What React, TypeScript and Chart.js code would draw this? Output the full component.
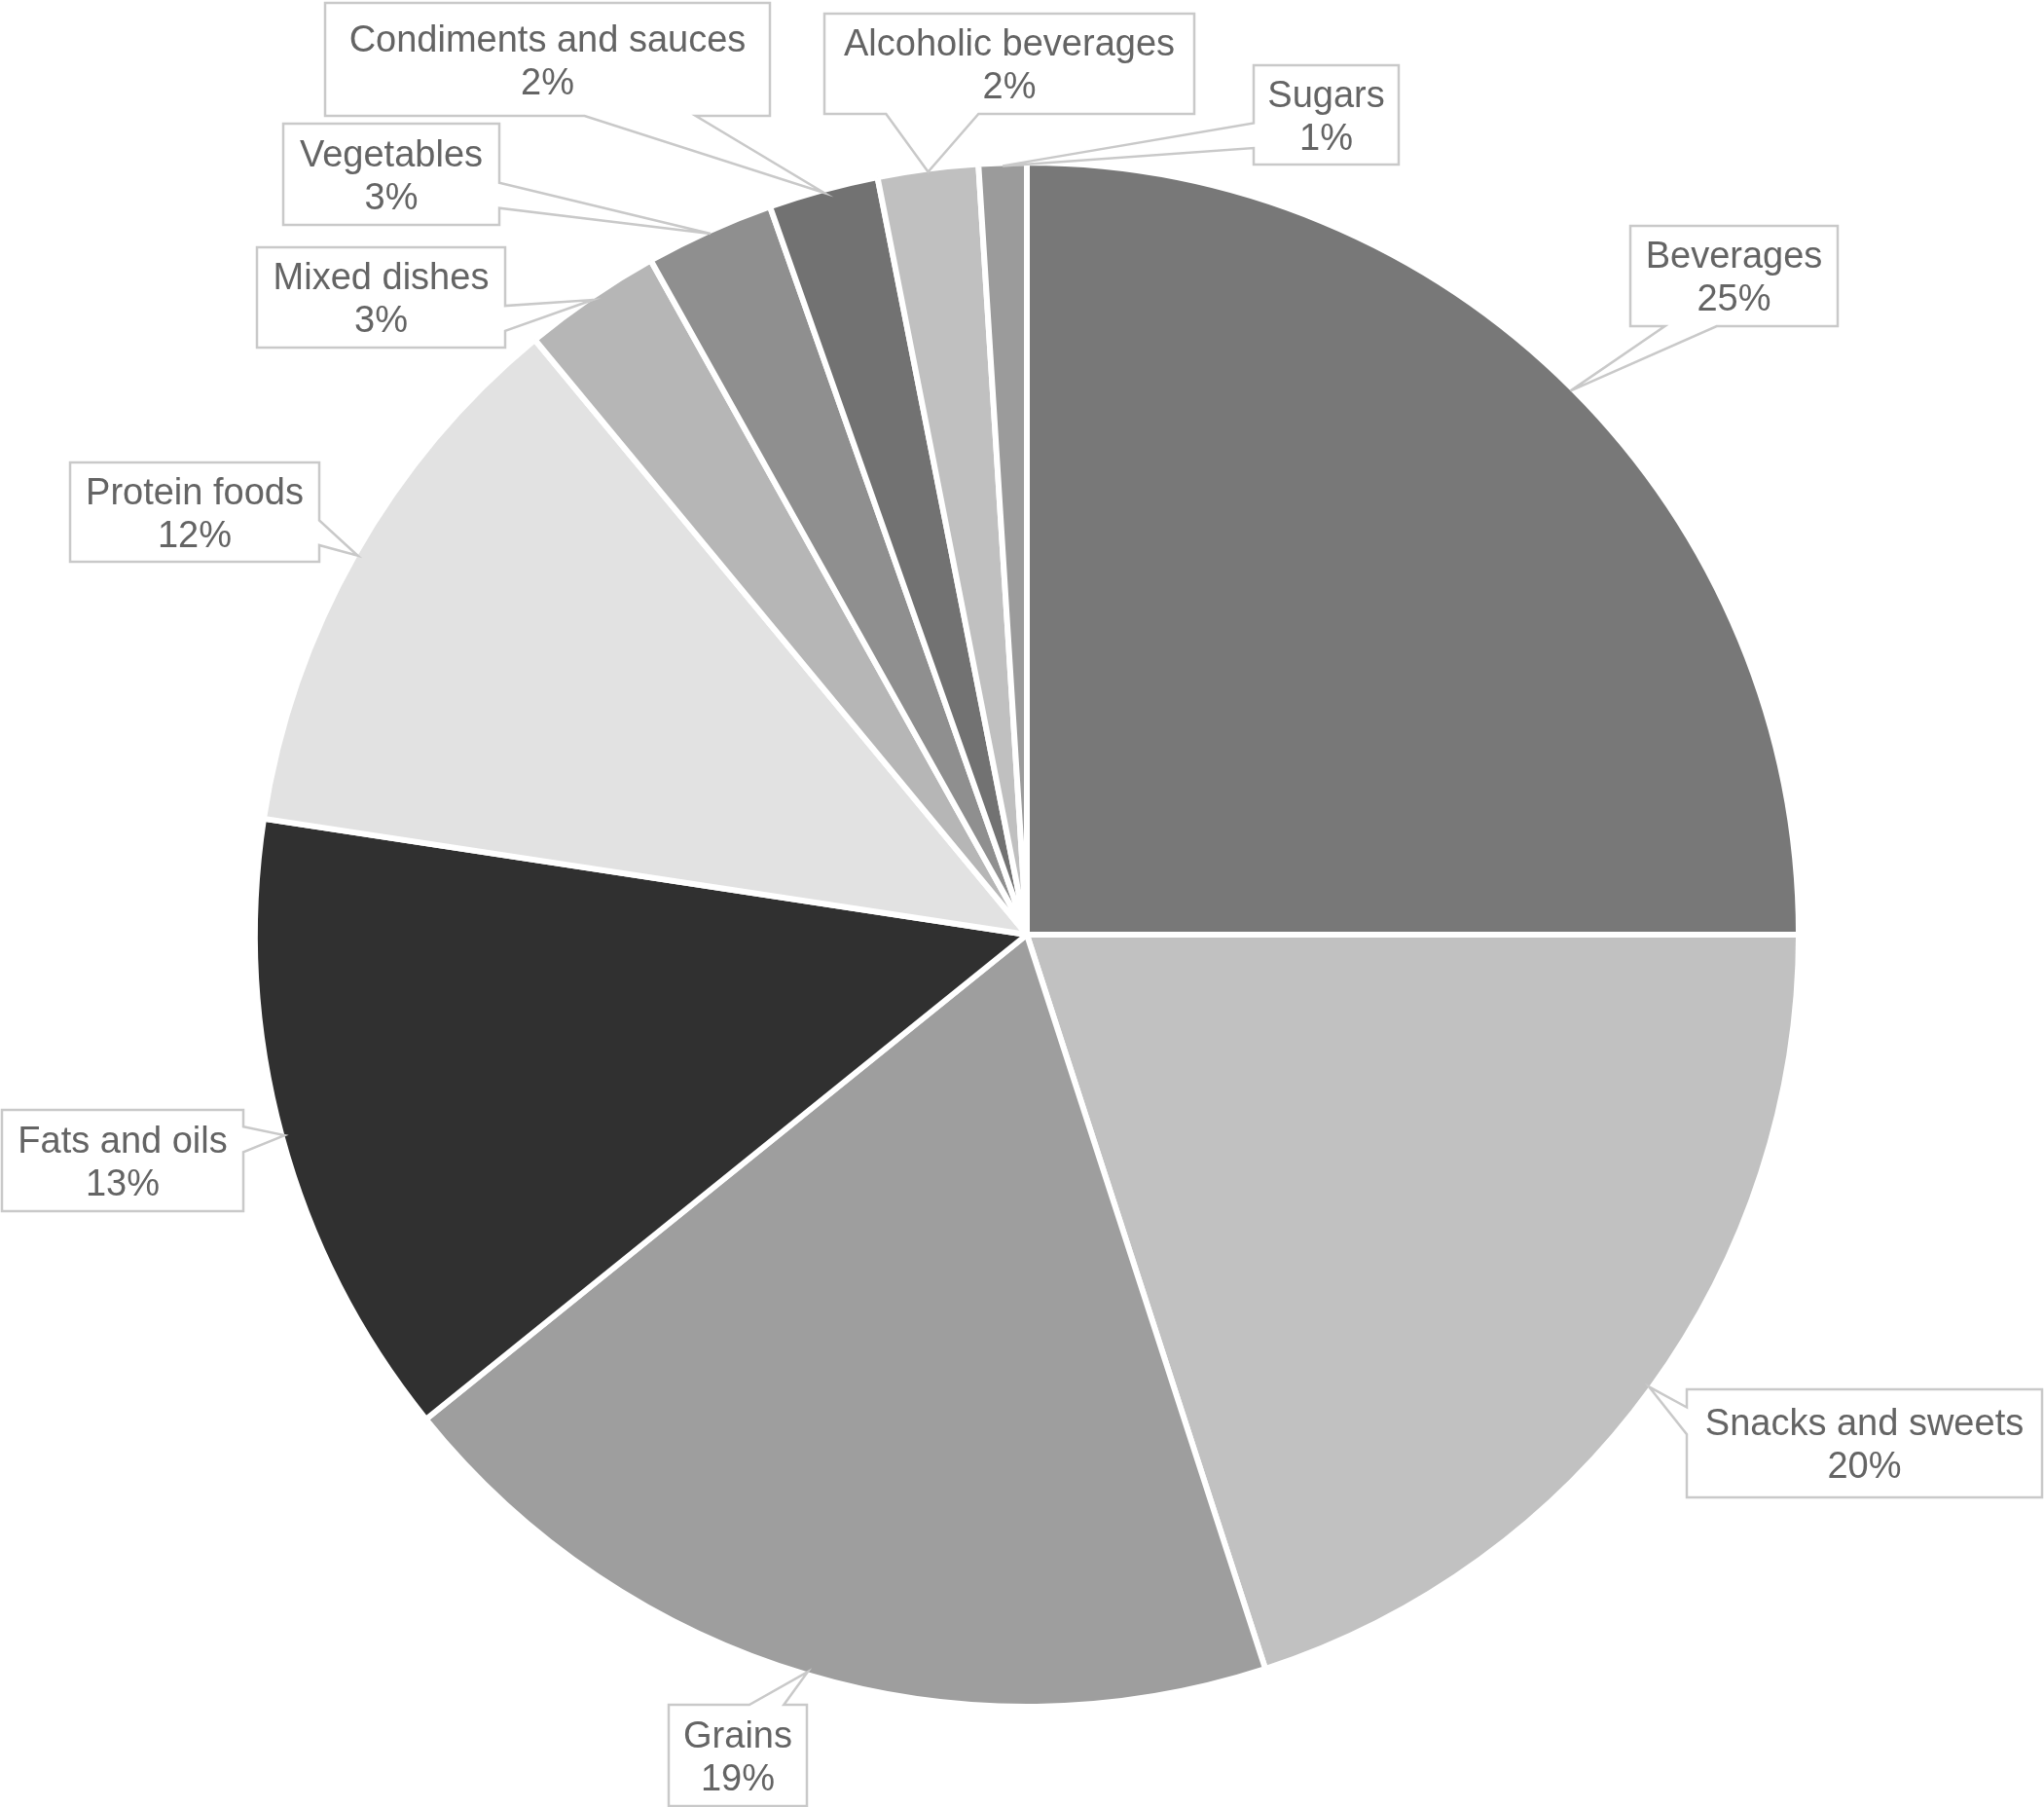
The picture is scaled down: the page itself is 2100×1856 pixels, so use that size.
import React, { useEffect, useRef } from "react";
import { Chart, registerables } from "chart.js";

Chart.register(...registerables);

// ---- data ----
const categories: string[] = [
  "Beverages",
  "Snacks and sweets",
  "Grains",
  "Fats and oils",
  "Protein foods",
  "Mixed dishes",
  "Vegetables",
  "Condiments and sauces",
  "Alcoholic beverages",
  "Sugars",
];
const shares: number[] = [25, 20, 19.2, 13.2, 11.6, 2.9, 2.7, 2.3, 2.1, 1.0];

// ---- styles ----
const sliceColors: string[] = [
  "#787878",
  "#c1c1c1",
  "#9e9e9e",
  "#303030",
  "#e2e2e2",
  "#b6b6b6",
  "#8f8f8f",
  "#727272",
  "#c0c0c0",
  "#9b9b9b",
];

// ---- callout box layout: [left, top, right, bottom] in canvas px ----
const labelBoxes: number[][] = [
  [1675, 232, 1888, 335],
  [1733, 1427, 2098, 1538],
  [687, 1751, 829, 1855],
  [2, 1140, 250, 1244],
  [72, 475, 328, 577],
  [264, 254, 519, 357],
  [291, 127, 513, 231],
  [334, 3, 791, 119],
  [847, 14, 1227, 117],
  [1288, 67, 1437, 169],
];

const FONT = '38px "Liberation Sans", Arial, sans-serif';
const TEXT_COLOR = "#646464";
const BOX_BORDER = "#c9c9c9";

const calloutPlugin = {
  id: "callouts",
  afterDatasetsDraw(chart: any) {
    const ctx: CanvasRenderingContext2D = chart.ctx;
    const meta = chart.getDatasetMeta(0);
    const data = chart.data.datasets[0].data as number[];
    const total = data.reduce((a, b) => a + b, 0);
    ctx.save();
    meta.data.forEach((el: any, i: number) => {
      const p = el.getProps(["x", "y", "startAngle", "endAngle", "outerRadius"], true);
      const mid = (p.startAngle + p.endAngle) / 2;
      const r = p.outerRadius - 3;
      const tx = p.x + Math.cos(mid) * r;
      const ty = p.y + Math.sin(mid) * r;
      const [l, t, rr, b] = labelBoxes[i];
      const w = rr - l;
      const h = b - t;
      const cx = (l + rr) / 2;
      const cy = (t + b) / 2;
      const dx = (tx - cx) / (w / 2);
      const dy = (ty - cy) / (h / 2);
      let edge: string;
      if (Math.abs(dx) > Math.abs(dy)) edge = dx > 0 ? "right" : "left";
      else edge = dy > 0 ? "bottom" : "top";
      const horiz = edge === "top" || edge === "bottom";
      const far = horiz ? tx > cx : ty > cy;
      const f0 = far ? 7 / 12 : 1 / 6;
      const f1 = far ? 5 / 6 : 5 / 12;
      const pts: number[][] = [];
      pts.push([l, t]);
      if (edge === "top") pts.push([l + w * f0, t], [tx, ty], [l + w * f1, t]);
      pts.push([rr, t]);
      if (edge === "right") pts.push([rr, t + h * f0], [tx, ty], [rr, t + h * f1]);
      pts.push([rr, b]);
      if (edge === "bottom") pts.push([l + w * f1, b], [tx, ty], [l + w * f0, b]);
      pts.push([l, b]);
      if (edge === "left") pts.push([l, t + h * f1], [tx, ty], [l, t + h * f0]);

      ctx.beginPath();
      pts.forEach(([px, py], k) => (k === 0 ? ctx.moveTo(px, py) : ctx.lineTo(px, py)));
      ctx.closePath();
      ctx.fillStyle = "#ffffff";
      ctx.fill();
      ctx.lineWidth = 2.5;
      ctx.lineJoin = "miter";
      ctx.strokeStyle = BOX_BORDER;
      ctx.stroke();

      const pct = Math.round((data[i] / total) * 100) + "%";
      ctx.font = FONT;
      ctx.fillStyle = TEXT_COLOR;
      ctx.textAlign = "center";
      ctx.textBaseline = "alphabetic";
      const lineH = 44;
      const capH = 27;
      const base1 = cy - lineH / 2 + capH / 2;
      ctx.fillText(String(chart.data.labels[i]), cx, base1);
      ctx.fillText(pct, cx, base1 + lineH);
    });
    ctx.restore();
  },
};

export default function App() {
  const canvasRef = useRef<HTMLCanvasElement | null>(null);

  useEffect(() => {
    const canvas = canvasRef.current;
    if (!canvas) return;
    const chart = new Chart(canvas, {
      type: "pie",
      data: {
        labels: categories,
        datasets: [
          {
            data: shares,
            backgroundColor: sliceColors,
            borderColor: "#ffffff",
            borderWidth: 6,
          },
        ],
      },
      options: {
        responsive: false,
        animation: false,
        radius: 793,
        rotation: 0,
        layout: { padding: { left: 10, right: 0, top: 64, bottom: 0 } },
        plugins: {
          legend: { display: false },
          tooltip: { enabled: false },
        },
      } as any,
      plugins: [calloutPlugin],
    });
    return () => chart.destroy();
  }, []);

  return (
    <div style={{ position: "absolute", left: 0, top: 0, width: 2100, height: 1856, background: "#ffffff" }}>
      <canvas ref={canvasRef} width={2100} height={1856} style={{ display: "block", width: 2100, height: 1856 }} />
    </div>
  );
}
